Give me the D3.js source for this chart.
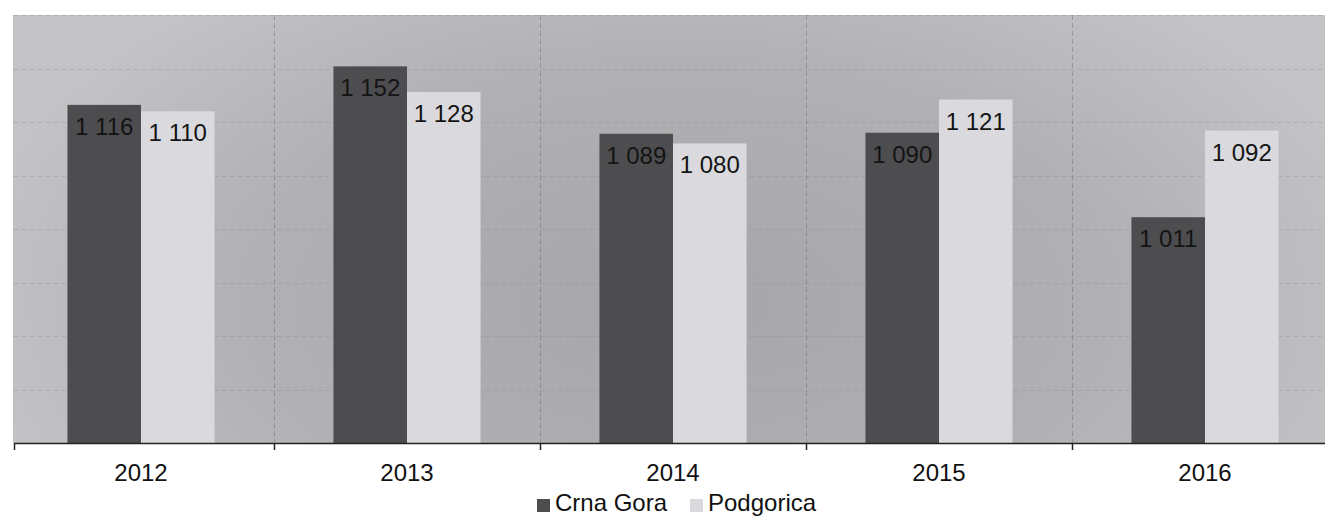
<!DOCTYPE html>
<html>
<head>
<meta charset="utf-8">
<script src="https://cdn.jsdelivr.net/npm/d3@7"></script>
<style>
  html, body { margin: 0; padding: 0; background: #fff; }
  svg { display: block; }
  text { font-family: "Liberation Sans", Arial, sans-serif; fill: #111; }
</style>
</head>
<body>
<svg id="chart" width="1325" height="517"></svg>
<script>
const categories = ["2012", "2013", "2014", "2015", "2016"];
const seriesNames = ["Crna Gora", "Podgorica"];
const crnaGora = [1116, 1152, 1089, 1090, 1011];
const podgorica = [1110, 1128, 1080, 1121, 1092];
const yDomain = [800, 1200];
const gridValues = [850, 900, 950, 1000, 1050, 1100, 1150, 1200];

const colors = { "Crna Gora": "#4d4d50", "Podgorica": "#dadade" };

const W = 1325, H = 517;
const plot = { left: 13, right: 1338, top: 15, bottom: 443 };
const scaleStart = 8;

const svg = d3.select("#chart");
const defs = svg.append("defs");
const grad = defs.append("radialGradient").attr("id", "bg")
  .attr("gradientUnits", "userSpaceOnUse")
  .attr("cx", 680).attr("cy", 300).attr("r", 720)
  .attr("gradientTransform", "translate(680,300) scale(1,0.55) translate(-680,-300)");
grad.append("stop").attr("offset", "0%").attr("stop-color", "#a6a6a8");
grad.append("stop").attr("offset", "60%").attr("stop-color", "#b1b1b3");
grad.append("stop").attr("offset", "100%").attr("stop-color", "#c3c3c5");

svg.append("rect")
  .attr("x", plot.left).attr("y", plot.top)
  .attr("width", plot.right - plot.left).attr("height", plot.bottom - plot.top)
  .attr("fill", "url(#bg)");

const pad = 0.447;
const x0 = d3.scaleBand().domain(categories).range([scaleStart, plot.right])
  .paddingInner(pad).paddingOuter(pad / 2);
const x1 = d3.scaleBand().domain(seriesNames).range([0, x0.bandwidth()]);
const y = d3.scaleLinear().domain(yDomain).range([plot.bottom, plot.top]);

// horizontal gridlines
svg.append("g").selectAll("line").data(gridValues).join("line")
  .attr("x1", plot.left).attr("x2", plot.right)
  .attr("y1", d => Math.round(y(d)) + 0.5).attr("y2", d => Math.round(y(d)) + 0.5)
  .attr("stroke", "#8c8c8e").attr("stroke-width", 1)
  .attr("stroke-dasharray", "5,3").attr("opacity", 0.35);

// vertical gridlines at category boundaries
const step = x0.step();
const boundaries = categories.map((c, i) => i === 0 ? plot.left + 1 : scaleStart + i * step);
svg.append("g").selectAll("line").data(boundaries.slice(1)).join("line")
  .attr("x1", d => Math.round(d) + 0.5).attr("x2", d => Math.round(d) + 0.5)
  .attr("y1", plot.top).attr("y2", plot.bottom)
  .attr("stroke", "#6c6c6e").attr("stroke-width", 1)
  .attr("stroke-dasharray", "5,3").attr("opacity", 0.45);

const rows = categories.map((c, i) => ({ cat: c, vals: [
  { name: "Crna Gora", v: crnaGora[i] },
  { name: "Podgorica", v: podgorica[i] }
]}));

const groups = svg.append("g").selectAll("g").data(rows).join("g")
  .attr("transform", d => `translate(${x0(d.cat)},0)`);

groups.selectAll("rect").data(d => d.vals).join("rect")
  .attr("x", d => x1(d.name))
  .attr("y", d => y(d.v))
  .attr("width", x1.bandwidth())
  .attr("height", d => y(yDomain[0]) - y(d.v))
  .attr("fill", d => colors[d.name]);

const fmt = v => d3.format(",")(v).replace(/,/g, " ");
groups.selectAll("text").data(d => d.vals).join("text")
  .attr("x", d => x1(d.name) + x1.bandwidth() / 2)
  .attr("y", d => y(d.v) + 30)
  .attr("text-anchor", "middle")
  .attr("font-size", 24)
  .style("fill", "#141414")
  .text(d => fmt(d.v));

// x axis
const axisG = svg.append("g");
axisG.append("line")
  .attr("x1", plot.left + 1).attr("x2", W)
  .attr("y1", plot.bottom + 0.5).attr("y2", plot.bottom + 0.5)
  .attr("stroke", "#222").attr("stroke-width", 1.5);
axisG.selectAll("line.tick").data(boundaries).join("line")
  .attr("class", "tick")
  .attr("x1", d => Math.round(d) + 0.5).attr("x2", d => Math.round(d) + 0.5)
  .attr("y1", plot.bottom).attr("y2", plot.bottom + 7)
  .attr("stroke", "#222").attr("stroke-width", 1.5);
axisG.selectAll("text").data(categories).join("text")
  .attr("x", d => x0(d) + x0.bandwidth() / 2)
  .attr("y", 481)
  .attr("text-anchor", "middle")
  .attr("font-size", 24)
  .text(d => d);

// legend
const legend = svg.append("g");
const legendItems = [
  { name: "Crna Gora", sx: 537, tx: 555 },
  { name: "Podgorica", sx: 690, tx: 708 }
];
legend.selectAll("rect").data(legendItems).join("rect")
  .attr("x", d => d.sx).attr("y", 499)
  .attr("width", 13).attr("height", 13)
  .attr("fill", d => colors[d.name]);
legend.selectAll("text").data(legendItems).join("text")
  .attr("x", d => d.tx).attr("y", 511)
  .attr("font-size", 24)
  .text(d => d.name);
</script>
</body>
</html>
